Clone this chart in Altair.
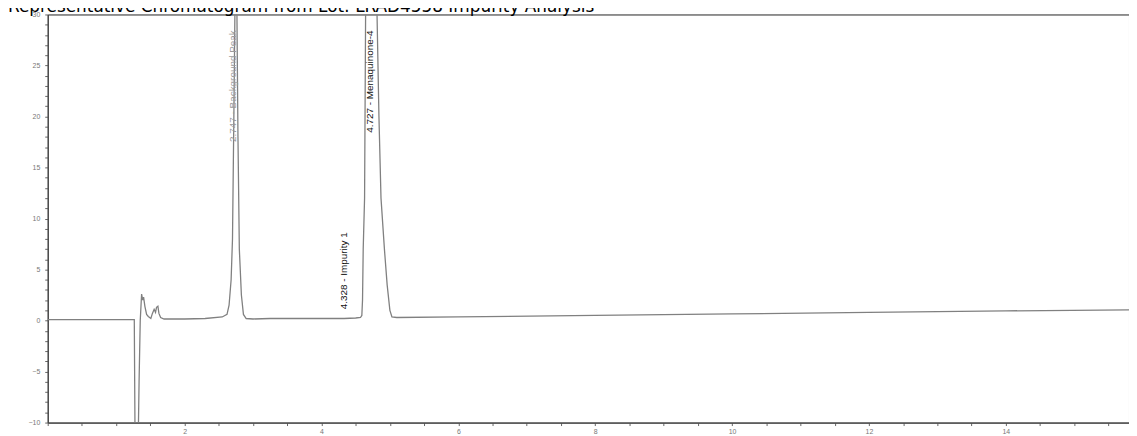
import altair as alt
import pandas as pd

# ---- data ----
time_min = [0, 1.265, 1.275, 1.285, 1.325, 1.335, 1.352, 1.372, 1.388, 1.401, 1.42, 1.445,
            1.47, 1.507, 1.53, 1.555, 1.575, 1.59, 1.61, 1.625, 1.65, 1.70, 2.0, 2.3, 2.55,
            2.62, 2.65, 2.68, 2.70, 2.72, 2.735, 2.747, 2.765, 2.78, 2.80, 2.83, 2.86, 2.90,
            3.0, 3.25, 3.5, 4.0, 4.14, 4.33, 4.5, 4.57, 4.59, 4.60, 4.61, 4.63, 4.645, 4.68,
            4.727, 4.77, 4.812, 4.84, 4.87, 4.92, 4.96, 5.00, 5.03, 5.1, 6, 8, 10, 12, 14, 15.8]
signal = [0.1, 0.1, -10.5, -10.5, -10.5, -6, 0, 2.6, 2.0, 2.3, 1.4, 0.6,
          0.4, 0.2, 0.7, 1.1, 0.8, 1.3, 1.4, 0.7, 0.3, 0.15, 0.15, 0.2, 0.35,
          0.6, 1.5, 4, 8, 20, 30, 38, 30, 18, 7, 2.5, 0.6, 0.2,
          0.15, 0.2, 0.2, 0.2, 0.2, 0.2, 0.25, 0.3, 0.5, 2, 7, 12, 30, 50,
          60, 45, 30, 20, 12, 7, 3.5, 1, 0.35, 0.3, 0.35, 0.5, 0.65, 0.8, 0.95, 1.05]

peak_labels = ["2.747 - Background Peak", "4.328 - Impurity 1", "4.727 - Menaquinone-4"]
label_time = [2.71, 4.333, 4.71]
label_start = [17.5, 1.1, 18.4]
label_color = ["#9a9a9a", "#111111", "#111111"]

title_text = "Representative Chromatogram from Lot: LRAD4558 Impurity Analysis"

x_ticks = [i * 0.5 for i in range(0, 32)]
y_ticks = list(range(-10, 31))

W, H = 1089, 411

trace = pd.DataFrame({"t": time_min, "v": signal})
labels = pd.DataFrame({"t": label_time, "v": label_start, "label": peak_labels, "c": label_color})

x_scale = alt.Scale(domain=[0, 15.8], nice=False, zero=False)
y_scale = alt.Scale(domain=[-10, 30], nice=False, zero=False)

x_axis = alt.Axis(values=x_ticks, title=None, grid=False, tickSize=3, tickColor="#666",
                  domainColor="#444", labelFontSize=7, labelColor="#777", labelOverlap=False,
                  labelExpr="(datum.value % 2 == 0 && datum.value > 0) ? format(datum.value, 'd') : ''",
                  labelPadding=2, labelFont="Liberation Sans")
y_axis = alt.Axis(values=y_ticks, title=None, grid=False, tickSize=3, tickColor="#666",
                  domainColor="#444", labelFontSize=7, labelColor="#777", labelOverlap=False,
                  labelBound=False,
                  labelExpr="(datum.value % 5 == 0) ? format(datum.value, 'd') : ''",
                  labelPadding=5, labelFont="Liberation Sans")

line = alt.Chart(trace).mark_line(color="#808080", strokeWidth=1.3, clip=True).encode(
    x=alt.X("t:Q", scale=x_scale, axis=x_axis),
    y=alt.Y("v:Q", scale=y_scale, axis=y_axis),
    order="t:Q",
)

text = alt.Chart(labels).mark_text(angle=270, align="left", baseline="middle", fontSize=10,
                                   font="Liberation Sans").encode(
    x=alt.X("t:Q", scale=x_scale, axis=x_axis),
    y=alt.Y("v:Q", scale=y_scale, axis=y_axis),
    text="label:N",
    color=alt.Color("c:N", scale=None),
)

title = alt.Chart(pd.DataFrame({"s": [title_text]})).mark_text(
    align="left", baseline="alphabetic", fontSize=17, font="DejaVu Sans", color="#000"
).encode(x=alt.value(-40), y=alt.value(-2), text="s:N")

frame = alt.Chart(pd.DataFrame({"a": [0]})).mark_rule(color="#333", strokeWidth=1).encode(
    x=alt.value(-43), y=alt.value(0), y2=alt.value(H + 20)
)

chart = alt.layer(frame, line, text, title).properties(
    width=W, height=H,
    autosize=alt.AutoSizeParams(type="none"),
    padding={"left": 40, "top": 5, "right": 0, "bottom": 12},
).configure_view(stroke="#222", strokeWidth=1).configure_axis(labelOverlap=False)

chart.save("out.html", embed_options={"renderer": "svg", "actions": False})
